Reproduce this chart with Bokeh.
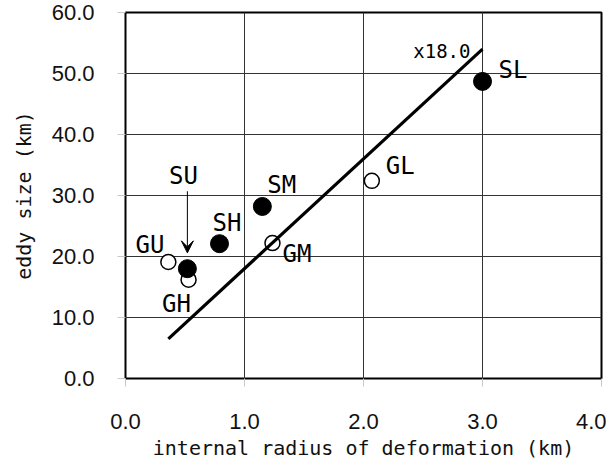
from bokeh.plotting import figure
from bokeh.models import Range1d, FixedTicker, Arrow, VeeHead, ColumnDataSource, NumeralTickFormatter
from bokeh.embed import file_html
from bokeh.resources import INLINE
from bokeh.core.properties import value

# Data
filled_names = ["SL", "SM", "SH", "SU"]
filled_x = [3.0, 1.15, 0.79, 0.52]
filled_y = [48.7, 28.2, 22.1, 18.0]

open_names = ["GL", "GM", "GU", "GH"]
open_x = [2.07, 1.235, 0.36, 0.53]
open_y = [32.4, 22.2, 19.1, 16.2]

fit_x = [0.36, 3.0]
fit_y = [6.5, 54.0]
fit_label = "x18.0"

x_ticks = [0, 1, 2, 3, 4]
y_ticks = [0, 10, 20, 30, 40, 50, 60]

LABEL_FONT_NAME = "DejaVu Sans Mono"
LABEL_FONT = value(LABEL_FONT_NAME)
TICK_FONT_NAME = "Liberation Sans"

p = figure(width=606, height=462, output_backend="svg", toolbar_location=None,
           x_range=Range1d(0, 4), y_range=Range1d(0, 60),
           min_border_left=125, min_border_right=5, min_border_top=12, min_border_bottom=84)
p.background_fill_color = "white"
p.border_fill_color = "white"
p.outline_line_color = "black"
p.outline_line_width = 2

for ax in (p.xaxis[0], p.yaxis[0]):
    ax.axis_line_color = None
    ax.major_tick_out = 8
    ax.major_tick_in = 0
    ax.minor_tick_out = 0
    ax.minor_tick_in = 0
    ax.major_tick_line_color = "#c8c8c8"
    ax.major_tick_line_width = 1
    ax.major_label_text_font = TICK_FONT_NAME
    ax.major_label_text_font_size = "22px"
    ax.major_label_text_color = "#111111"
    ax.formatter = NumeralTickFormatter(format="0.0")
    ax.axis_label_text_font = LABEL_FONT_NAME
    ax.axis_label_text_font_size = "20px"
    ax.axis_label_text_font_style = "normal"
    ax.axis_label_text_color = "#111111"

p.xaxis.ticker = FixedTicker(ticks=x_ticks)
p.yaxis.ticker = FixedTicker(ticks=y_ticks)
p.xaxis.axis_label = "internal radius of deformation (km)"
p.yaxis.axis_label = "eddy size (km)"
p.xaxis.major_label_standoff = 27
p.yaxis.major_label_standoff = 23
p.xaxis.axis_label_standoff = 4
p.yaxis.axis_label_standoff = 13

p.grid.grid_line_color = "#333333"
p.grid.grid_line_width = 1
p.xgrid.ticker = FixedTicker(ticks=x_ticks)
p.ygrid.ticker = FixedTicker(ticks=y_ticks)

# markers
p.scatter(open_x, open_y, size=15, marker="circle", fill_color="white",
          line_color="black", line_width=1.5)
p.scatter(filled_x, filled_y, size=18, marker="circle", fill_color="black",
          line_color="black", line_width=1)

# fit line
p.line(fit_x, fit_y, line_color="black", line_width=3.2)

# point labels (offsets in screen pixels)
lab_src = ColumnDataSource(dict(
    x=filled_x + open_x,
    y=filled_y + open_y,
    t=filled_names + open_names,
    dx=[16, 5, -7, -4, 14, 10, -4, -12],
    dy=[-11, -21, -21, -93, -15, 11, -17, 24],
    al=["left", "left", "left", "center", "left", "left", "right", "center"],
))
p.text(x="x", y="y", text="t", x_offset="dx", y_offset="dy", text_align="al",
       text_baseline="middle", text_font=LABEL_FONT, text_font_size="24px",
       text_color="black", source=lab_src)

p.text(x=[fit_x[1]], y=[fit_y[1]], text=[fit_label], x_offset=-12, y_offset=2,
       text_align="right", text_baseline="middle", text_font=LABEL_FONT,
       text_font_size="19px", text_color="black")

# arrow pointing to SU
su_x, su_y = filled_x[3], filled_y[3]
p.add_layout(Arrow(end=VeeHead(size=12, fill_color="black", line_color="black"),
                   x_start=su_x, y_start=su_y + 12.7, x_end=su_x, y_end=su_y + 2.6,
                   line_color="black", line_width=1))

open("out.html", "w").write(file_html(p, INLINE))
